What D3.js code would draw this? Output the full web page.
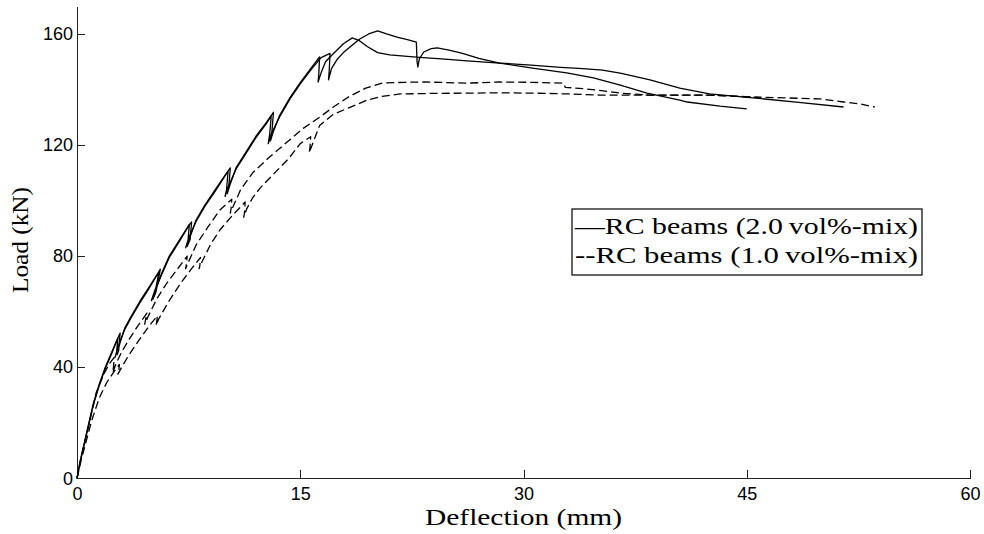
<!DOCTYPE html>
<html lang="en">
<head>
<meta charset="UTF-8">
<title>Load vs Deflection</title>
<script src="https://d3js.org/d3.v7.min.js"></script>
<style>
  body { margin: 0; background: #fff; }
  .axis text { font-family: "Liberation Sans", Arial, sans-serif; font-size: 18px; fill: #000; }
  .axis path, .axis line { stroke: #222; stroke-width: 1; fill: none; shape-rendering: crispEdges; }
  .curve { fill: none; stroke: #000; stroke-width: 1.3; stroke-linejoin: round; }
  .dashed { stroke-dasharray: 8, 4; }
  .lbl { font-family: "Liberation Serif", "Times New Roman", serif; font-size: 24px; fill: #000; }
</style>
</head>
<body>
<div id="chart"></div>
<script>
// tick values
const xTicks = [0, 15, 30, 45, 60];
const yTicks = [0, 40, 80, 120, 160];

// RC beams 2.0 vol%-mix, specimen A  [deflection mm, load kN]
const beam20A = [
  [0,0],[0.2,5.5],[0.5,12.5],[0.8,19.5],[1.1,26.5],[1.5,33.5],[1.9,39.5],[2.3,44.5],[2.6,48.5],[2.75,50.5],
  [2.65,45],[2.55,43.5],[2.8,48],[3.2,53.5],[3.6,57.5],[4.2,63],[4.8,68],[5.3,72.5],[5.5,74],
  [5.2,66],[5.0,64],[5.25,68],[5.7,73.5],[6.2,79.5],[6.9,85.5],[7.4,90],[7.55,91.5],
  [7.45,85],[7.3,83],[7.5,86.5],[8.0,92.5],[8.6,98],[9.3,103.5],[9.9,108.5],[10.15,110.5],
  [10.05,104],[9.95,101.5],[10.2,105.5],[10.7,111.5],[11.3,116.5],[12.0,122.5],[12.7,127.5],[13.05,130.5],
  [12.95,124],[12.85,120.5],[13.1,124.5],[13.6,130],[14.3,136.5],[15.0,142],[15.7,147],[16.4,151.5],[17.0,153],
  [16.95,147],[16.9,143.5],[17.1,147.5],[17.5,151],[17.9,153.3],[18.5,156],[19.0,158.2],[19.6,160],[20.2,161.1],
  [20.8,160],[21.5,158.9],[22.2,158],[22.8,157.1],[22.85,150],[22.9,148.1],[23.0,151],[23.3,153.5],[23.8,154.7],
  [24.2,155],[25.0,154.2],[25.9,153],[27.0,151.2],[28.4,149.5],[30.6,147.7],[32.9,146],[34.7,144.2],[36.5,141.6],
  [38.3,138.7],[40.5,136.2],[41.0,135.5],[43.2,134],[45.0,133]
];

// RC beams 2.0 vol%-mix, specimen B
const beam20B = [
  [0,0],[0.2,6],[0.5,13],[0.8,20],[1.1,27],[1.5,34],[1.9,40],[2.3,45],[2.7,50],[2.9,52.3],
  [2.8,46],[2.7,44.5],[2.9,49],[3.2,54],[3.6,58],[4.2,63.5],[4.8,68.5],[5.4,73.5],[5.6,75.3],
  [5.3,67],[5.1,64.5],[5.3,68],[5.7,74],[6.2,80],[6.9,86],[7.5,91],[7.7,92.3],
  [7.6,86],[7.4,83.5],[7.6,87],[8.0,93],[8.6,98.5],[9.3,104],[10.0,109.5],[10.3,111.8],
  [10.2,105],[10.1,102.5],[10.3,106],[10.7,112],[11.3,117],[12.0,123],[12.7,128],[13.2,131.8],
  [13.1,125],[13.0,121.5],[13.2,125],[13.6,130.5],[14.3,137],[15.0,142.5],[15.7,147.5],[16.3,151.7],
  [16.25,146],[16.2,142.7],[16.4,146],[16.7,150],[17.2,152.8],[17.9,156.5],[18.5,158.6],[19.0,157.5],
  [19.5,155.5],[20.2,153.3],[21.0,152.5],[22.0,152],[23.0,151.6],[24.5,151],[26.2,150.3],[28.4,149.5],
  [30.5,148.8],[32.5,148],[34.0,147.5],[35.3,147],[36.5,145.9],[38.5,143.5],[40.5,140.5],[42.5,138.4],
  [45.4,137.0],[48.5,135.4],[51.5,133.7]
];

// RC beams 1.0 vol%-mix, specimen A
const beam10A = [
  [0,0],[0.3,8],[0.7,17],[1.0,24],[1.3,31],[1.8,37.5],[2.2,41.5],[2.5,43.5],
  [2.45,40],[2.4,38],[2.6,41],[3.0,45.5],[3.5,50],[4.1,55],[4.7,59.5],
  [4.6,57],[4.55,55.5],[4.8,58.5],[5.4,65],[6.0,70],[6.7,75],[7.4,80],
  [7.35,77],[7.3,75.5],[7.5,78],[8.0,84],[8.8,90.5],[9.6,96.6],[10.4,100.5],
  [10.35,97],[10.3,95.5],[10.5,98],[11.0,104],[11.8,110],[12.9,115.5],[14.1,121],[15.2,126],
  [16.3,130],[17.3,134],[18.3,137.5],[19.4,140.5],[20.5,142.3],[22,142.6],[23.3,142.7],[24.8,142.5],
  [26.2,142.3],[28.4,142.7],[30.5,142.6],[32.7,142.3],[32.8,140.8],[34.0,140.3],[35.1,139.7],
  [36.5,138.7],[38.5,138],[40.5,138],[42.5,138],[44.0,137.6],[45.8,137.2]
];

// RC beams 1.0 vol%-mix, specimen B
const beam10B = [
  [0,0],[0.3,7],[0.7,15],[1.0,21],[1.5,29],[2.0,34.5],[2.5,38.5],[2.85,41],
  [2.8,38.5],[2.75,37.5],[3.0,40],[3.5,44.5],[4.2,50],[4.8,54.5],[5.4,58.5],
  [5.35,56],[5.3,55],[5.5,57.5],[6.2,64],[7.0,70.5],[7.7,75.5],[8.3,79.5],
  [8.25,76.5],[8.2,75.5],[8.4,78],[9.0,84.5],[9.6,89.4],[10.5,95],[11.3,99.5],
  [11.25,95.5],[11.2,94],[11.4,97],[11.8,101],[12.3,104.5],[13.2,109.5],[14.2,115],[15.0,120.5],[15.7,123],
  [15.65,119],[15.6,117.2],[15.8,120],[16.3,127],[17.2,131],[18.3,133.5],[19.5,136.2],[20.5,137.5],
  [21.7,138.4],[24,138.6],[26.2,138.7],[28.4,138.8],[30.6,138.7],[33,138.4],[35.1,138],[38.5,138],
  [40.5,138],[42.5,138],[45.4,137.3],[47.5,137],[49.9,136.6],[51.5,135.5],[52.6,134.8],[53.6,133.7]
];

const legendLabels = ["\u2014RC beams (2.0\u2009vol%-mix)", "--RC beams (1.0\u2009vol%-mix)"];

const W = 984, H = 534;
const svg = d3.select("#chart").append("svg")
  .attr("width", W).attr("height", H);

// scales (plot box)
const x = d3.scaleLinear().domain([0, 60]).range([77, 970]);
const y = d3.scaleLinear().domain([0, 170]).range([478.3, 6.2]);

// axes, ticks pointing inward
svg.append("g")
  .attr("class", "axis")
  .attr("transform", `translate(0,${y(0)})`)
  .call(d3.axisBottom(x).tickValues(xTicks).tickSizeInner(-8).tickSizeOuter(0).tickPadding(9));

svg.append("g")
  .attr("class", "axis")
  .attr("transform", `translate(${x(0)},0)`)
  .call(d3.axisLeft(y).tickValues(yTicks).tickSizeInner(-8).tickSizeOuter(0).tickPadding(4));

// curves
const line = d3.line().x(d => x(d[0])).y(d => y(d[1]));

[beam20A, beam20B].forEach(s => {
  svg.append("path").attr("class", "curve").attr("d", line(s));
});
[beam10A, beam10B].forEach(s => {
  svg.append("path").attr("class", "curve dashed").attr("d", line(s));
});

// axis labels
svg.append("text")
  .attr("class", "lbl")
  .attr("x", 523.5).attr("y", 525)
  .attr("text-anchor", "middle")
  .attr("textLength", 197).attr("lengthAdjust", "spacingAndGlyphs")
  .text("Deflection (mm)");

svg.append("text")
  .attr("class", "lbl")
  .attr("transform", "translate(28,240) rotate(-90)")
  .attr("text-anchor", "middle")
  .attr("textLength", 106).attr("lengthAdjust", "spacingAndGlyphs")
  .text("Load (kN)");

// legend
const lg = svg.append("g").attr("transform", "translate(572,209)");
lg.append("rect")
  .attr("width", 350).attr("height", 66)
  .attr("fill", "#fff").attr("stroke", "#000").attr("stroke-width", 1.2);
lg.selectAll("text.leg")
  .data(legendLabels)
  .join("text")
  .attr("class", "lbl leg")
  .attr("x", 3)
  .attr("y", (d, i) => 25 + i * 29)
  .attr("textLength", 343).attr("lengthAdjust", "spacingAndGlyphs")
  .text(d => d);
</script>
</body>
</html>
